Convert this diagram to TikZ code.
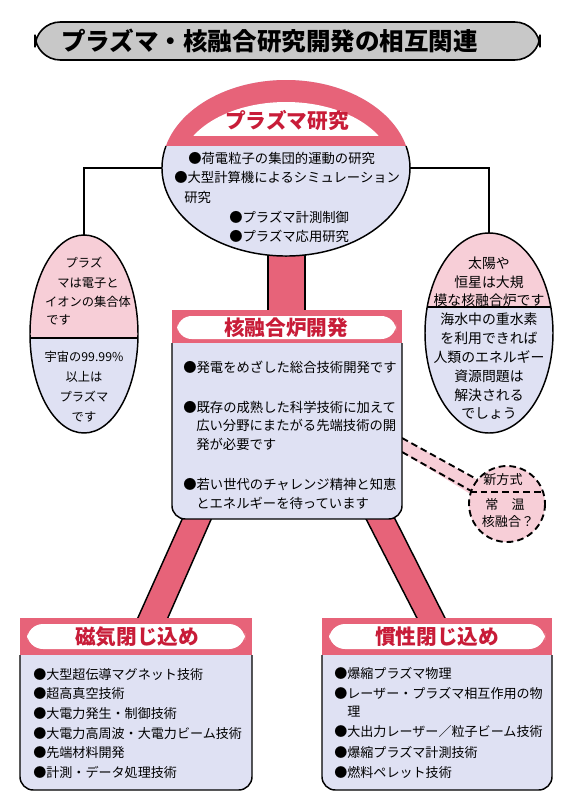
\documentclass[tikz,border=0pt]{standalone}
\usepackage{fontspec}
\setmainfont{Noto Sans CJK JP}

\begin{document}
\begin{tikzpicture}[x=0.75pt,y=0.75pt,yscale=-1,xscale=1,
  pinkred/.style={fill={rgb, 255:red, 231; green, 99; blue, 121}},
  lightpink/.style={fill={rgb, 255:red, 247; green, 206; blue, 215}},
  lav/.style={fill={rgb, 255:red, 223; green, 225; blue, 243}},
  outline/.style={draw={rgb, 255:red, 0; green, 0; blue, 0}, line width=1.1},
  dashline/.style={draw, line width=1.4, dash pattern={on 5pt off 3pt}},
  bar/.style={pinkred, line width=1.1},
  headtxt/.style={inner sep=0.75pt, font=\fontsize{15.5}{18}\selectfont\bfseries, text={rgb, 255:red, 200; green, 28; blue, 56}},
  txt/.style={anchor=west, inner sep=0.75pt, font=\fontsize{10}{12}\selectfont},
  smalltxt/.style={anchor=west, inner sep=0.75pt, font=\fontsize{9.8}{12}\selectfont},
  ovaltxt/.style={inner sep=0.75pt, font=\fontsize{9.2}{11}\selectfont},
  bigovaltxt/.style={inner sep=0.75pt, font=\fontsize{10.4}{12}\selectfont}]
\path [fill=white] (0,0) rectangle (567,803);
\useasboundingbox (0,0) rectangle (567,803);

%Shape: Rounded Rect [title]
\draw [fill={rgb, 255:red, 200; green, 200; blue, 200}, line width=1.2, rounded corners=19] (35,22) rectangle (540,60);
% Text Node
\draw (60,41) node [anchor=west][inner sep=0.75pt][font=\fontsize{18.4}{22}\selectfont\bfseries] (title) {プラズマ・核融合研究開発の相互関連};

%Connector points
\coordinate (plasW) at (162,168);
\coordinate (plasE) at (410,168);
\coordinate (leftN) at (84,235);
\coordinate (rightN) at (489,233);

%Straight Lines [to side ovals]
\draw [outline] (plasW) -| (leftN);
\draw [outline] (plasE) -| (rightN);

%Shape: Rect [centre bar]
\fill [pinkred] (268,240) rectangle (305,312);
\draw [outline] (268,240) -- (268,312);
\draw [outline] (305,240) -- (305,312);

%Shape: Polygon [bars to bottom boxes]
\fill [pinkred] (184,515) -- (213,515) -- (166,622) -- (136,622) -- cycle;
\draw [outline] (184,515) -- (136,622);
\draw [outline] (213,515) -- (166,622);
\fill [pinkred] (364,515) -- (393,515) -- (447,622) -- (419,622) -- cycle;
\draw [outline] (364,515) -- (419,622);
\draw [outline] (393,515) -- (447,622);

%Shape: Polygon [dashed band]
\fill [lightpink] (395,434) -- (490,487) -- (482,501) -- (395,448) -- cycle;
\draw [dashline] (402,438) -- (480,481);
\draw [dashline] (402,452) -- (473,492);

%Shape: Ellipse [plasma research]
\fill [lav] (286,168) ellipse [x radius=124, y radius=88];
\begin{scope}
\clip (286,168) ellipse [x radius=124, y radius=88];
\fill [pinkred] (150,70) rectangle (420,146);
\begin{scope}
\clip (150,60) rectangle (420,135);
\fill [white] (286,168) ellipse [x radius=106, y radius=66];
\end{scope}
\end{scope}
\draw [outline] (165.94,146) arc [start angle=194.48, end angle=-14.48, x radius=124, y radius=88];

% Text Node
\draw (287,121) node [headtxt] (plasmaHead) {プラズマ研究};
\draw (187,158) node [txt] (p1) {●荷電粒子の集団的運動の研究};
\draw (173,177) node [txt] (p2) {●大型計算機によるシミュレーション};
\draw (183,197) node [txt] (p3) {研究};
\draw (228,217) node [txt] (p4) {●プラズマ計測制御};
\draw (228,236) node [txt] (p5) {●プラズマ応用研究};

%Shape: Ellipse [left]
\fill [lightpink] (84,334) ellipse [x radius=54, y radius=99];
\begin{scope}
\clip (84,334) ellipse [x radius=54, y radius=99];
\fill [lav] (20,338) rectangle (150,440);
\draw [outline] (20,338) -- (150,338);
\end{scope}
\draw [outline] (84,334) ellipse [x radius=54, y radius=99];

% Text Node
\draw (84,263) node [ovaltxt] (l1) {プラズ};
\draw (88,283) node [ovaltxt] (l2) {マは電子と};
\draw (88,302) node [ovaltxt] (l3) {イオンの集合体};
\draw (45,320) node [ovaltxt, anchor=west] (l4) {です};
\draw (84,357) node [ovaltxt] (l5) {宇宙の99.99\%};
\draw (84,377) node [ovaltxt] (l6) {以上は};
\draw (84,397) node [ovaltxt] (l7) {プラズマ};
\draw (84,417) node [ovaltxt] (l8) {です};

%Shape: Ellipse [right]
\fill [lightpink] (489,333) ellipse [x radius=64, y radius=100];
\begin{scope}
\clip (489,333) ellipse [x radius=64, y radius=100];
\fill [lav] (420,307) rectangle (560,440);
\draw [outline] (420,307) -- (560,307);
\end{scope}
\draw [outline] (489,333) ellipse [x radius=64, y radius=100];

% Text Node
\draw (489,263) node [bigovaltxt] (r1) {太陽や};
\draw (489,282) node [bigovaltxt] (r2) {恒星は大規};
\draw (489,300) node [bigovaltxt] (r3) {模な核融合炉です};
\draw (489,319) node [bigovaltxt] (r4) {海水中の重水素};
\draw (489,338) node [bigovaltxt] (r5) {を利用できれば};
\draw (489,357) node [bigovaltxt] (r6) {人類のエネルギー};
\draw (489,376) node [bigovaltxt] (r7) {資源問題は};
\draw (489,395) node [bigovaltxt] (r8) {解決される};
\draw (489,414) node [bigovaltxt] (r9) {でしょう};

%Shape: Rect [reactor box]
\draw [outline, lav, rounded corners=10] (172,343) -- (172,519) -- (402,519) -- (402,343);
\fill [pinkred] (172,310) rectangle (402,343);
\fill [white, rounded corners=11] (177,316) rectangle (396,339);

% Text Node
\draw (286,328) node [headtxt] (reactorHead) {核融合炉開発};
\draw (182,367) node [txt] (c1) {●発電をめざした総合技術開発です};
\draw (182,407) node [txt] (c2) {●既存の成熟した科学技術に加えて};
\draw (195,425) node [txt] (c3) {広い分野にまたがる先端技術の開};
\draw (195,444) node [txt] (c4) {発が必要です};
\draw (182,484) node [txt] (c5) {●若い世代のチャレンジ精神と知恵};
\draw (195,503) node [txt] (c6) {とエネルギーを待っています};

%Shape: Circle [new method]
\draw [dashline, lightpink] (507,504) circle [radius=38];
\draw [dashline] (470,492) -- (544,492);

% Text Node
\draw (503,480) node [inner sep=0.75pt, font=\fontsize{9.8}{12}\selectfont] (n1) {新方式};
\draw (505,505) node [inner sep=0.75pt, font=\fontsize{9.8}{12}\selectfont] (n2) {常　温};
\draw (508,522) node [inner sep=0.75pt, font=\fontsize{9.8}{12}\selectfont] (n3) {核融合？};

%Shape: Rect [magnetic box]
\draw [outline, lav, rounded corners=10] (20,655) -- (20,790) -- (252,790) -- (252,655);
\fill [pinkred] (20,618) rectangle (252,655);
\fill [white, rounded corners=12] (27,624) rectangle (245,649);

% Text Node
\draw (137,637) node [headtxt] (magHead) {磁気閉じ込め};
\draw (32,675) node [smalltxt] (m1) {●大型超伝導マグネット技術};
\draw (32,694) node [smalltxt] (m2) {●超高真空技術};
\draw (32,714) node [smalltxt] (m3) {●大電力発生・制御技術};
\draw (32,734) node [smalltxt] (m4) {●大電力高周波・大電力ビーム技術};
\draw (32,753) node [smalltxt] (m5) {●先端材料開発};
\draw (32,772) node [smalltxt] (m6) {●計測・データ処理技術};

%Shape: Rect [inertial box]
\draw [outline, lav, rounded corners=10] (322,655) -- (322,790) -- (552,790) -- (552,655);
\fill [pinkred] (322,618) rectangle (552,655);
\fill [white, rounded corners=12] (329,624) rectangle (545,649);

% Text Node
\draw (437,637) node [headtxt] (inertHead) {慣性閉じ込め};
\draw (333,673) node [smalltxt] (i1) {●爆縮プラズマ物理};
\draw (333,693) node [smalltxt] (i2) {●レーザー・プラズマ相互作用の物};
\draw (346,712) node [smalltxt] (i3) {理};
\draw (333,732) node [smalltxt] (i4) {●大出力レーザー／粒子ビーム技術};
\draw (333,752) node [smalltxt] (i5) {●爆縮プラズマ計測技術};
\draw (333,772) node [smalltxt] (i6) {●燃料ペレット技術};

\end{tikzpicture}
\end{document}
